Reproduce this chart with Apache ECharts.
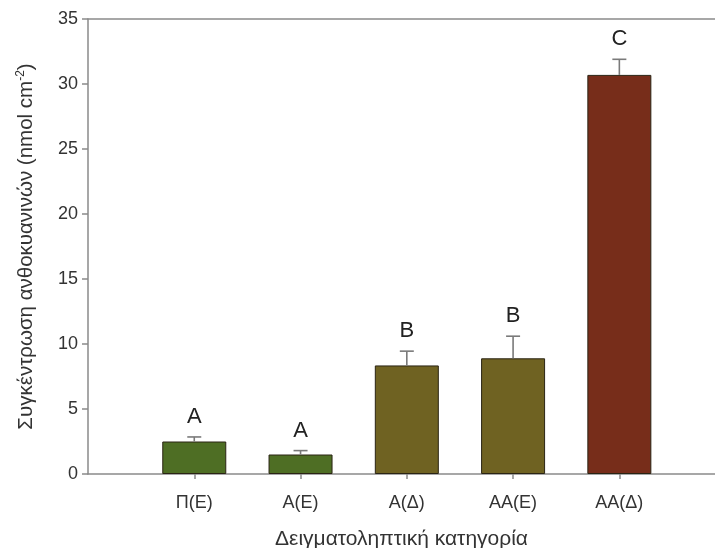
<!DOCTYPE html>
<html>
<head>
<meta charset="utf-8">
<script src="https://cdn.jsdelivr.net/npm/echarts@6/dist/echarts.min.js"></script>
<style>html,body{margin:0;padding:0;background:#fff;}#c{width:715px;height:548px;}</style>
</head>
<body>
<div id="c"></div>
<script>
const categories = ['Π(E)', 'A(E)', 'A(Δ)', 'AA(E)', 'AA(Δ)'];
const means = [2.5, 1.5, 8.35, 8.9, 30.7];
const errors = [0.35, 0.3, 1.1, 1.7, 1.2];
const letters = ['A', 'A', 'B', 'B', 'C'];
const barColors = ['#4e6e24', '#4e6e24', '#6f6222', '#6f6222', '#772d1a'];
const yTicks = [0, 5, 10, 15, 20, 25, 30, 35];

const FONT = 'Liberation Sans, Arial, sans-serif';
const AXIS_GRAY = '#8a8a8a';
const chart = echarts.init(document.getElementById('c'), null, {renderer: 'canvas'});

const positions = categories.map((c, i) => i + 1);
const barData = means.map((v, i) => ({
  value: [positions[i], v],
  itemStyle: {color: barColors[i]}
}));
const errData = means.map((v, i) => [positions[i], v, errors[i]]);
const X_MAX = 5.9;

chart.setOption({
  animation: false,
  backgroundColor: '#fff',
  grid: {left: 88, top: 19, right: 0, bottom: 74, containLabel: false, outerBoundsMode: 'none'},
  xAxis: [{
    type: 'value', min: 0, max: X_MAX, interval: 1,
    splitLine: {show: false},
    axisLine: {show: true, onZero: false, lineStyle: {color: AXIS_GRAY, width: 1.5}},
    axisTick: {show: true, length: 5, customValues: positions, lineStyle: {color: AXIS_GRAY, width: 1.5}},
    axisLabel: {
      margin: 20, fontSize: 18, color: '#333', fontFamily: FONT,
      showMinLabel: true, showMaxLabel: true, hideOverlap: false,
      customValues: positions,
      formatter: v => (v >= 1 && v <= categories.length) ? categories[Math.round(v) - 1] : ''
    },
    name: 'Δειγματοληπτική κατηγορία',
    nameLocation: 'middle', nameGap: 55,
    nameTextStyle: {fontSize: 21, color: '#333', fontFamily: FONT}
  }, {
    type: 'value', min: 0, max: X_MAX, position: 'top',
    splitLine: {show: false},
    axisLine: {show: true, onZero: false, lineStyle: {color: AXIS_GRAY, width: 1.5}},
    axisTick: {show: false},
    axisLabel: {show: false}
  }],
  yAxis: {
    type: 'value', min: yTicks[0], max: yTicks[yTicks.length - 1], interval: 5,
    splitLine: {show: false},
    axisLine: {show: true, lineStyle: {color: AXIS_GRAY, width: 1.5}},
    axisTick: {show: true, length: 6, lineStyle: {color: AXIS_GRAY, width: 1.5}},
    axisLabel: {margin: 10, fontSize: 18, color: '#333', fontFamily: FONT},
    name: 'Συγκέντρωση ανθοκυανινών (nmol cm{sup|-2})',
    nameLocation: 'middle', nameGap: 51, nameRotate: 90,
    nameTextStyle: {
      fontSize: 20.5, color: '#333', fontFamily: FONT,
      rich: {sup: {fontSize: 12, color: '#333', fontFamily: FONT, verticalAlign: 'top', padding: [0, 0, 10, 0]}}
    }
  },
  series: [
    {
      type: 'bar',
      data: barData,
      barWidth: 64,
      itemStyle: {borderColor: '#2a2414', borderWidth: 1}
    },
    {
      type: 'custom',
      data: errData,
      z: 5,
      renderItem: function (params, api) {
        const x = api.value(0), m = api.value(1), e = api.value(2);
        const base = api.coord([x, m]);
        const top = api.coord([x, m + e]);
        const cap = 7;
        const style = {stroke: '#7a7a7a', lineWidth: 1.6};
        return {
          type: 'group',
          children: [
            {type: 'line', shape: {x1: top[0], y1: base[1], x2: top[0], y2: top[1]}, style: style},
            {type: 'line', shape: {x1: top[0] - cap, y1: top[1], x2: top[0] + cap, y2: top[1]}, style: style},
            {type: 'text', x: top[0], y: top[1] - 20,
             style: {text: letters[params.dataIndex], fontSize: 22, fontFamily: FONT, fill: '#222', align: 'center', verticalAlign: 'middle'}}
          ]
        };
      }
    }
  ]
});
</script>
</body>
</html>
